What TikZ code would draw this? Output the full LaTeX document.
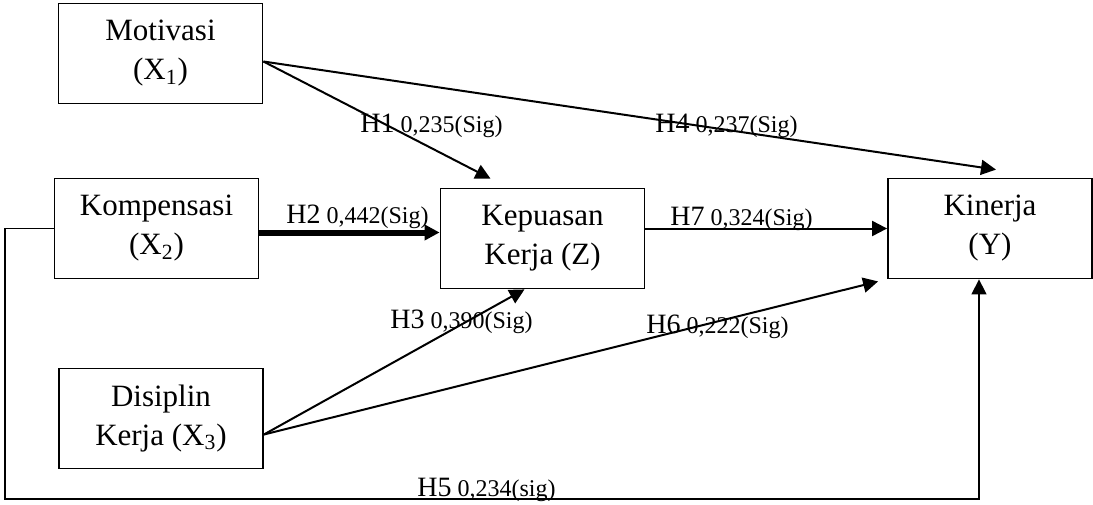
\documentclass[tikz,border=0pt]{standalone}
\usepackage{fontspec}
\setmainfont{Liberation Serif}
\usepackage{tikz}
\usetikzlibrary{arrows.meta, positioning, calc}
\newcommand{\hlab}[2]{{\fontsize{14}{16}\selectfont #1} #2}

\begin{document}
\begin{tikzpicture}[
  x=0.5pt, y=-0.5pt,
  varbox/.style={rectangle, draw, line width=0.9pt, minimum width=102pt,
                 minimum height=50pt, inner sep=0pt, align=center,
                 font=\fontsize{15.5}{19.5}\selectfont},
  link/.style={-{Triangle[length=7.5pt, width=7.5pt]}, line width=1pt},
  hlabel/.style={anchor=base west, inner sep=0pt, font=\fontsize{12}{14}\selectfont}
]
\useasboundingbox (0,0) rectangle (1093,504);

\node[varbox] (mot) at (160.5,53.5)  {Motivasi\\(X\textsubscript{1})};
\node[varbox] (kom) at (156.5,228.5) {Kompensasi\\(X\textsubscript{2})};
\node[varbox] (kep) at (542.5,238.5) {Kepuasan\\Kerja (Z)};
\node[varbox] (kin) at (990,228.5)   {Kinerja\\(Y)};
\node[varbox] (dis) at (161,418.5)   {Disiplin\\Kerja (X\textsubscript{3})};
\coordinate (h5a) at (5,499);

\draw[link] ([yshift=-4pt]mot.east) -- ([xshift=-26pt,yshift=4.5pt]kep.north);
\draw[link] ([yshift=-4pt]mot.east) -- ([xshift=3pt,yshift=4pt]kin.north);
\draw[link, line width=3pt] ([yshift=-2pt]kom.east) -- ([yshift=-2pt]kom.east -| kep.west);
\draw[link] (kep.east |- kin.west) -- (kin.west);
\draw[link] ([yshift=-8pt]dis.east) -- ([xshift=-9pt]kep.south);
\draw[link] ([yshift=-8pt]dis.east) -- ([xshift=-4.5pt,yshift=-1pt]kin.south west);
\draw[link, line width=0.75pt] (kom.west) -| (h5a) -| ([xshift=-5.5pt]kin.south);

\node[hlabel] (l1) at (360,132) {\hlab{H1}{0,235(Sig)}};
\node[hlabel] (l4) at (655,132) {\hlab{H4}{0,237(Sig)}};
\node[hlabel] (l2) at (286,223) {\hlab{H2}{0,442(Sig)}};
\node[hlabel] (l7) at (670,225) {\hlab{H7}{0,324(Sig)}};
\node[hlabel] (l3) at (390,328) {\hlab{H3}{0,390(Sig)}};
\node[hlabel] (l6) at (646,333) {\hlab{H6}{0,222(Sig)}};
\node[hlabel] (l5) at (417,496) {\hlab{H5}{0,234(sig)}};
\end{tikzpicture}
\end{document}
